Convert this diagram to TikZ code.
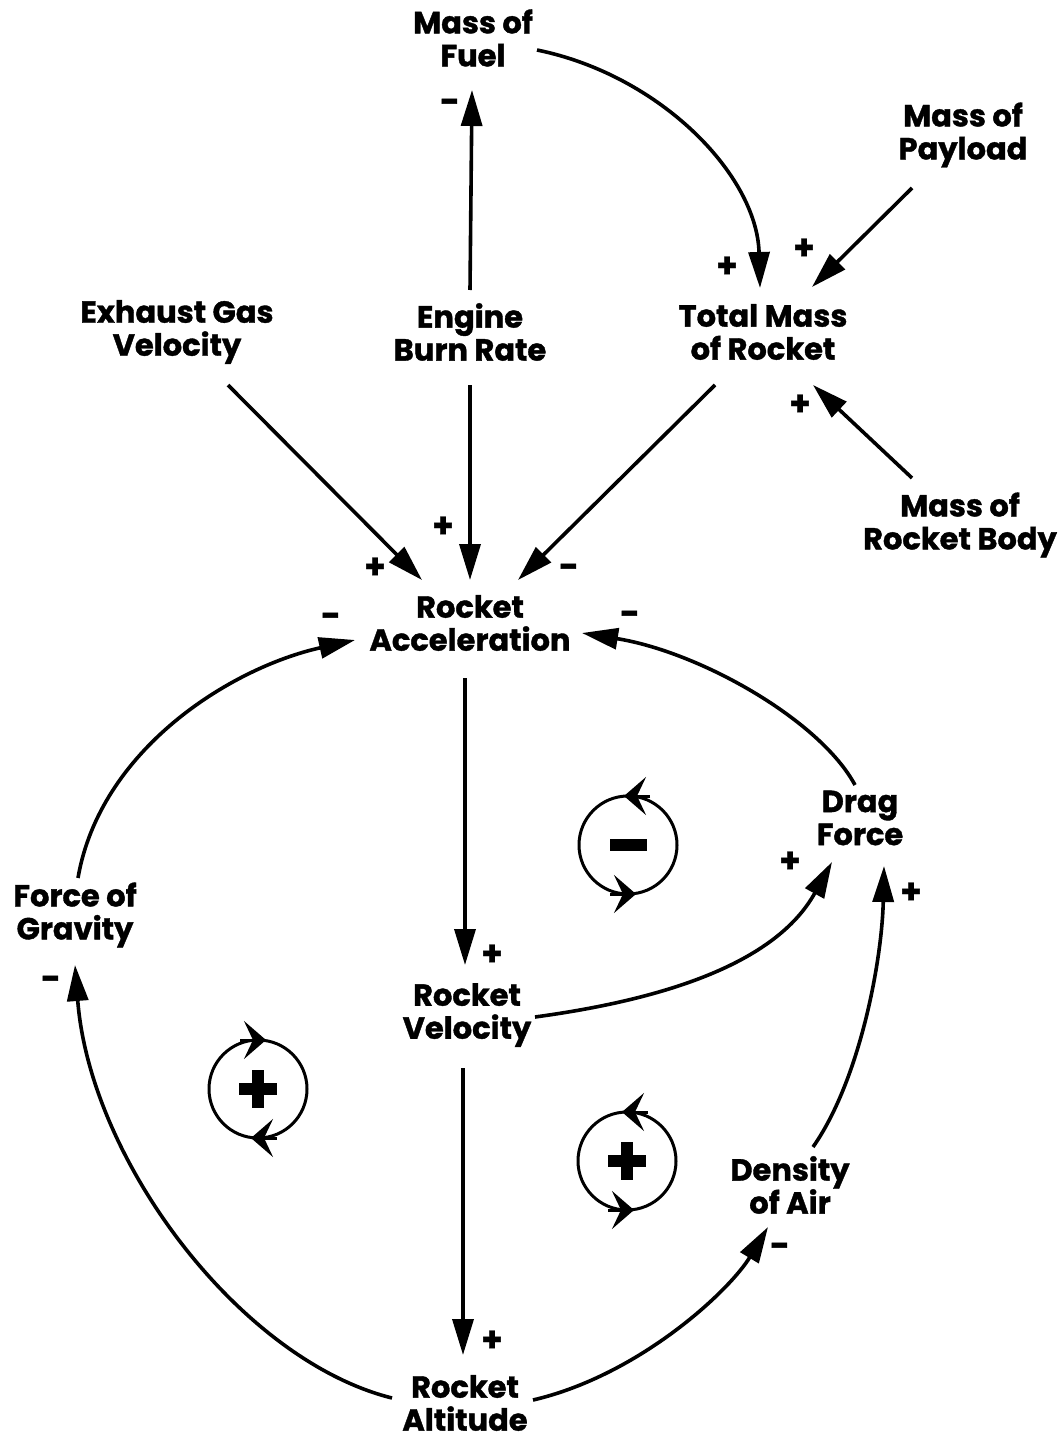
\documentclass[tikz,border=0pt]{standalone}
\usepackage{fontspec}
\setmainfont{Poppins}[BoldFeatures={FakeBold=1.2}]
\usetikzlibrary{arrows.meta}
\begin{document}
\begin{tikzpicture}[x=1pt,y=-1pt,
  lbl/.style={font=\fontsize{30.5}{33}\selectfont\bfseries, align=center, inner sep=0pt},
  sgn/.style={font=\fontsize{34}{34}\selectfont\bfseries, inner sep=0pt},
  conn/.style={line width=3.6pt, -{Triangle[length=36pt,width=21pt]}},
  loopc/.style={line width=3pt},
  ltip/.style={line width=3pt,-{Stealth[length=22pt,width=38pt,inset=9pt]}}]
\fill[white] (0,0) rectangle (1064,1439);
\useasboundingbox (0,0) rectangle (1064,1439);

% nodes
\node[lbl] (mf)  at (473,38)   {Mass of\\Fuel};
\node[lbl] (mp)  at (963,135)  {Mass of\\Payload};
\node[lbl] (egv) at (177,332)  {Exhaust Gas\\Velocity};
\node[lbl] (ebr) at (470,332)  {Engine\\Burn Rate};
\node[lbl] (tm)  at (763,332)  {Total Mass\\of Rocket};
\node[lbl] (mrb) at (960,525)  {Mass of\\Rocket Body};
\node[lbl] (ra)  at (470,623)  {Rocket\\Acceleration};
\node[lbl] (df)  at (860,818)  {Drag\\Force};
\node[lbl] (fg)  at (75,915)   {Force of\\Gravity};
\node[lbl] (rv)  at (467,1015) {Rocket\\Velocity};
\node[lbl] (da)  at (790,1185) {Density\\of Air};
\node[lbl] (alt) at (465,1403) {Rocket\\Altitude};

% connectors
\draw[conn] ([shift={(0,-42)}]ebr.center) -- ([shift={(-1,52)}]mf.center);
\draw[conn] ([shift={(64,12)}]mf.center) .. controls (660,75) and (757,175) .. ([shift={(-3,-44)}]tm.center);
\draw[conn] ([shift={(-51,53)}]mp.center) -- ([shift={(49,-45)}]tm.center);
\draw[conn] ([shift={(-48,-47)}]mrb.center) -- ([shift={(50,53)}]tm.center);
\draw[conn] ([shift={(51,53)}]egv.center) -- ([shift={(-48,-43)}]ra.center);
\draw[conn] ([shift={(0,53)}]ebr.center) -- ([shift={(0,-43)}]ra.center);
\draw[conn] ([shift={(-48,53)}]tm.center) -- ([shift={(48,-43)}]ra.center);
\draw[conn] ([shift={(-5,-33)}]df.center) .. controls (820,720) and (700,652) .. ([shift={(112,10)}]ra.center);
\draw[conn] ([shift={(3,-37)}]fg.center) .. controls (100,750) and (230,668) .. ([shift={(-115,17)}]ra.center);
\draw[conn] ([shift={(-5,55)}]ra.center) -- ([shift={(-2,-50)}]rv.center);
\draw[conn] ([shift={(68,2)}]rv.center) .. controls (660,1000) and (775,965) .. ([shift={(-28,44)}]df.center);
\draw[conn] ([shift={(23,-38)}]da.center) .. controls (860,1080) and (882,960) .. ([shift={(24,48)}]df.center);
\draw[conn] ([shift={(-4,53)}]rv.center) -- ([shift={(-2,-48)}]alt.center);
\draw[conn] ([shift={(-73,-5)}]alt.center) .. controls (240,1360) and (90,1160) .. ([shift={(0,50)}]fg.center);
\draw[conn] ([shift={(68,-3)}]alt.center) .. controls (640,1375) and (730,1290) .. ([shift={(-22,42)}]da.center);

% polarity signs
\node[sgn] (s1)  at (450,106)  {-};
\node[sgn] (s2)  at (727,267)  {+};
\node[sgn] (s3)  at (804,249)  {+};
\node[sgn] (s4)  at (800,405)  {+};
\node[sgn] (s5)  at (375,568)  {+};
\node[sgn] (s6)  at (443,527)  {+};
\node[sgn] (s7)  at (569,571)  {-};
\node[sgn] (s8)  at (630,618)  {-};
\node[sgn] (s9)  at (331,620)  {-};
\node[sgn] (s10) at (492,955)  {+};
\node[sgn] (s11) at (790,862)  {+};
\node[sgn] (s12) at (911,893)  {+};
\node[sgn] (s13) at (492,1341) {+};
\node[sgn] (s14) at (51,983)   {-};
\node[sgn] (s15) at (780,1250) {-};

% loop symbols
\draw[loopc] (628,845) circle (49);
\draw[ltip] (650,796) -- (624,796);
\draw[ltip] (610,894) -- (636,894);
\fill (610,839) rectangle (647,851);

\draw[loopc] (258,1089) circle (49);
\draw[ltip] (240,1040) -- (266,1040);
\draw[ltip] (277,1138) -- (251,1138);
\fill (239,1083) rectangle (277,1095);
\fill (252,1070) rectangle (264,1108);

\draw[loopc] (627,1161) circle (49);
\draw[ltip] (648,1112) -- (622,1112);
\draw[ltip] (608,1210) -- (634,1210);
\fill (608,1155) rectangle (646,1167);
\fill (621,1142) rectangle (633,1180);
\end{tikzpicture}
\end{document}
